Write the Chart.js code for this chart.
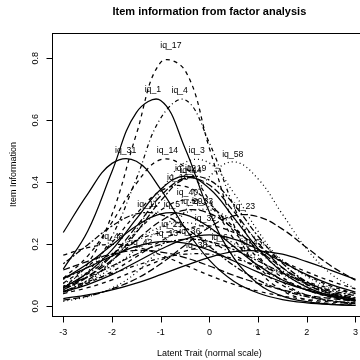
<!DOCTYPE html>
<html><head><meta charset="utf-8">
<script src="https://cdn.jsdelivr.net/npm/chart.js@4/dist/chart.umd.min.js"></script>
<style>html,body{margin:0;padding:0;background:#fff;overflow:hidden}#wrap{width:360px;height:360px;position:relative}</style>
</head><body><div id="wrap"><canvas id="c" width="360" height="360"></canvas></div>
<script>
// ---- data ----
const theta = [-3,-2.5,-2,-1.5,-1,-0.5,0,0.5,1,1.5,2,2.5,3];
const xTicks = [-3,-2,-1,0,1,2,3];
const yTicks = [0.0,0.2,0.4,0.6,0.8];

const iq_17 = [.058,.137,.296,.555,.787,.761,.510,.264,.119,.051,.021,.0085,.0035];
const iq_1  = [.120,.242,.435,.625,.664,.510,.304,.156,.073,.033,.0147,.0066,.0029];
const iq_4  = [.051,.111,.226,.411,.607,.666,.527,.323,.167,.079,.036,.016,.0072];
const iq_31 = [.238,.362,.461,.468,.377,.252,.149,.081,.043,.0217,.0111,.0056,.0029];
const iq_14 = [.090,.162,.271,.396,.473,.448,.342,.218,.126,.068,.035,.018,.009];
const iq_3  = [.041,.079,.145,.247,.371,.464,.462,.366,.242,.142,.077,.0405,.0207];
const iq_58 = [.0158,.031,.059,.109,.192,.307,.418,.466,.411,.297,.185,.104,.056];
const iq_12 = [.060,.108,.182,.282,.377,.420,.380,.286,.186,.110,.062,.0336,.018];
const iq_44 = [.053,.095,.164,.257,.356,.413,.391,.306,.205,.125,.071,.039,.021];
const iq_19 = [.047,.084,.147,.238,.340,.412,.407,.329,.226,.139,.079,.043,.0235];
const iq_16 = [.075,.128,.206,.298,.372,.387,.332,.242,.156,.093,.053,.029,.016];
const iq_40 = [.063,.104,.165,.240,.310,.343,.320,.256,.179,.115,.070,.040,.023];
const iq_11 = [.137,.198,.259,.298,.296,.255,.193,.132,.085,.052,.031,.018,.011];
const iq_5  = [.088,.137,.198,.259,.298,.296,.255,.193,.132,.085,.052,.031,.018];
const iq_29 = [.059,.096,.149,.213,.275,.310,.300,.250,.184,.124,.078,.047,.028];
const iq_33 = [.047,.078,.124,.184,.250,.301,.311,.276,.214,.149,.096,.059,.035];
const iq_23 = [.020,.033,.056,.089,.137,.197,.255,.292,.289,.249,.189,.130,.084];
const iq_32 = [.048,.075,.112,.160,.210,.248,.2595,.238,.195,.144,.100,.065,.041];
const iq_21 = [.087,.126,.170,.212,.237,.236,.209,.167,.122,.085,.056,.036,.023];
const iq_13 = [.091,.125,.162,.193,.209,.204,.181,.146,.110,.078,.053,.035,.023];
const iq_36 = [.065,.094,.130,.168,.200,.216,.209,.183,.146,.108,.075,.051,.034];
const iq_6  = [.041,.060,.085,.116,.149,.178,.194,.193,.174,.144,.111,.081,.056];
const iq_43 = [.025,.037,.053,.075,.102,.131,.158,.176,.179,.168,.144,.116,.087];
const iq_38 = [.058,.080,.106,.132,.155,.168,.168,.154,.131,.105,.079,.057,.041];
const iq_48 = [.165,.189,.200,.191,.166,.133,.100,.071,.049,.033,.022,.014,.009];
const iq_42 = [.117,.145,.168,.180,.175,.157,.130,.100,.074,.053,.036,.025,.017];
const iq_27 = [.073,.111,.161,.213,.256,.270,.249,.203,.150,.103,.066,.042,.026];
const iq_9  = [.046,.070,.102,.143,.184,.217,.230,.217,.184,.143,.102,.070,.046];

const itemNames = ['iq_17','iq_1','iq_4','iq_31','iq_14','iq_3','iq_58','iq_12','iq_44','iq_19','iq_16','iq_40','iq_11','iq_5','iq_29','iq_33','iq_23','iq_32','iq_21','iq_13','iq_36','iq_6','iq_43','iq_38','iq_48','iq_42','iq_27','iq_9'];
const itemSeries = [iq_17,iq_1,iq_4,iq_31,iq_14,iq_3,iq_58,iq_12,iq_44,iq_19,iq_16,iq_40,iq_11,iq_5,iq_29,iq_33,iq_23,iq_32,iq_21,iq_13,iq_36,iq_6,iq_43,iq_38,iq_48,iq_42,iq_27,iq_9];
// location (trait value) and height of each item's maximum information, where its name is written
const peakLocation = [-0.79,-1.16,-0.61,-1.72,-0.86,-0.26,0.48,-0.49,-0.38,-0.28,-0.65,-0.45,-1.27,-0.77,-0.36,-0.14,0.72,-0.08,-0.77,-0.86,-0.40,0.21,0.87,-0.26,-1.98,-1.39,-0.55,0.0];
const peakInfo     = [0.816,0.676,0.671,0.479,0.477,0.477,0.466,0.42,0.415,0.42,0.39,0.343,0.303,0.303,0.312,0.313,0.296,0.26,0.24,0.21,0.216,0.196,0.18,0.17,0.2,0.18,0.27,0.23];
const nameShown    = [1,1,1,1,1,1,1,1,1,1,1,1,1,1,1,1,1,1,1,1,1,1,1,1,1,1,0,0];

// ---- styles ----
const LTY = {solid:[], dashed:[4,4], dotted:[1,3], dotdash:[1,3,4,3], longdash:[7,3], twodash:[2,2,6,2]};
const itemLty = ['dashed','solid','dotdash','solid','dashed','dotted','dotted','solid','longdash','twodash','dashed','dotdash','twodash','solid','longdash','dotted','longdash','dashed','dotdash','solid','twodash','dashed','solid','dotdash','dashed','longdash','dotted','solid'];

const datasets = itemSeries.map((s,k)=>({
  label: itemNames[k],
  data: theta.map((t,i)=>({x:t,y:s[i]})),
  borderColor:'#000', borderWidth:1.25, borderDash: LTY[itemLty[k]],
  pointRadius:0, tension:0.4, fill:false
}));

const FONT = '"Liberation Sans", Arial, Helvetica, sans-serif';

const rPlot = {
  id:'rPlot',
  afterDraw(chart){
    const ctx = chart.ctx, a = chart.chartArea, xs = chart.scales.x, ys = chart.scales.y;
    ctx.save();
    ctx.strokeStyle = '#000'; ctx.fillStyle = '#000'; ctx.lineWidth = 1; ctx.setLineDash([]);
    // box
    ctx.strokeRect(Math.round(a.left)+0.5, Math.round(a.top)+0.5, 400, Math.round(a.bottom-a.top));
    // x axis
    const yb = Math.round(a.bottom)+0.5;
    ctx.beginPath();
    xTicks.forEach(v=>{ const px = Math.round(xs.getPixelForValue(v))+0.5; ctx.moveTo(px,yb); ctx.lineTo(px,yb+6); });
    ctx.stroke();
    ctx.font = '9px '+FONT; ctx.textAlign='center'; ctx.textBaseline='middle';
    xTicks.forEach(v=>{ ctx.fillText(String(v), xs.getPixelForValue(v), 333); });
    // y axis
    const xl = Math.round(a.left)+0.5;
    ctx.beginPath();
    yTicks.forEach(v=>{ const py = Math.round(ys.getPixelForValue(v))+0.5; ctx.moveTo(xl,py); ctx.lineTo(xl-6,py); });
    ctx.stroke();
    yTicks.forEach(v=>{
      ctx.save(); ctx.translate(36, ys.getPixelForValue(v)); ctx.rotate(-Math.PI/2);
      ctx.fillText(v.toFixed(1), 0, 0); ctx.restore();
    });
    // titles
    const cx = (a.left + xs.getPixelForValue(3.24))/2;
    ctx.font = 'bold 11px '+FONT;
    ctx.fillText('Item information from factor analysis', cx, 12);
    ctx.font = '9px '+FONT;
    ctx.fillText('Latent Trait (normal scale)', cx, 354);
    ctx.save(); ctx.translate(14, (a.top+a.bottom)/2); ctx.rotate(-Math.PI/2);
    ctx.fillText('Item Information', 0, 0); ctx.restore();
    // item names at maximum information
    ctx.font = '8.7px '+FONT;
    itemNames.forEach((n,k)=>{
      if(!nameShown[k]) return;
      ctx.fillText(n, xs.getPixelForValue(peakLocation[k]), ys.getPixelForValue(peakInfo[k]) - 7.5);
    });
    ctx.restore();
  }
};

new Chart(document.getElementById('c').getContext('2d'), {
  type:'line',
  data:{datasets},
  options:{
    responsive:false, animation:false, devicePixelRatio:1,
    layout:{padding:{left:51.6, top:33, right:0, bottom:44}},
    scales:{
      x:{type:'linear', min:-3.24, max:3.093, display:false},
      y:{type:'linear', min:-0.0313, max:0.8816, display:false}
    },
    plugins:{legend:{display:false}, tooltip:{enabled:false}, title:{display:false}},
    elements:{point:{radius:0}}
  },
  plugins:[rPlot]
});
</script></body></html>
